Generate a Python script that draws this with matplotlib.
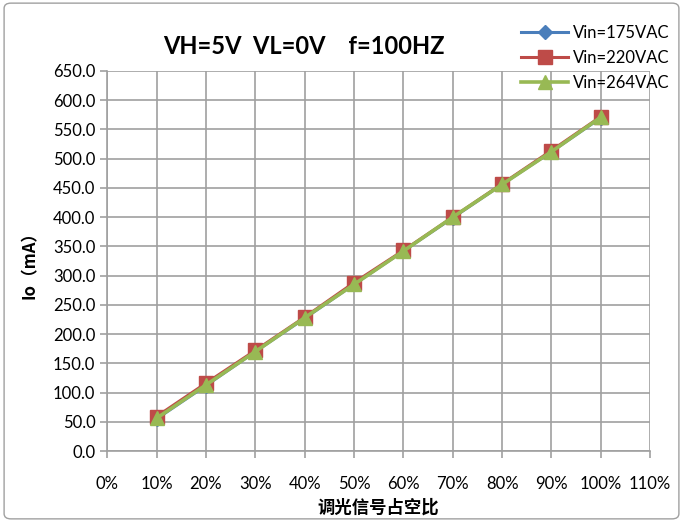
import matplotlib; matplotlib.use("Agg")
import matplotlib.pyplot as plt
from matplotlib.patches import FancyBboxPatch

duty = [10, 20, 30, 40, 50, 60, 70, 80, 90, 100]
io_175 = [55, 112, 170, 227, 285, 342, 399, 456, 512, 570]
io_220 = [59, 116, 172, 229, 288, 343, 400, 457, 514, 572]
io_264 = [56, 113, 170, 228, 285, 342, 400, 456, 512, 571]
labels = ["Vin=175VAC", "Vin=220VAC", "Vin=264VAC"]
xticks = list(range(0, 111, 10))
yticks = list(range(0, 651, 50))

plt.rcParams['font.family'] = ['Lato', 'Noto Sans CJK SC', 'DejaVu Sans']
fig = plt.figure(figsize=(6.83, 5.22), dpi=100)
ax = fig.add_axes([0.157, 0.136, 0.795, 0.728])
fig.patches.append(FancyBboxPatch((0.006, 0.006), 0.988, 0.988, boxstyle="round,pad=0,rounding_size=0.01",
                                  transform=fig.transFigure, fc="none", ec="#a0a0a0", lw=1))

ax.plot(duty, io_175, "-D", color="#4A7EBB", ms=7, lw=2.2, label=labels[0])
ax.plot(duty, io_220, "-s", color="#BE4B48", ms=10, lw=2.2, label=labels[1])
ax.plot(duty, io_264, "-^", color="#98B954", ms=10, lw=2.6, label=labels[2])

ax.set_xlim(0, 110); ax.set_ylim(0, 650)
ax.set_xticks(xticks); ax.set_xticklabels([f"{v}%" for v in xticks], fontsize=12)
ax.set_yticks(yticks); ax.set_yticklabels([f"{v:.1f}" for v in yticks], fontsize=12)
ax.grid(True, color="#a0a0a0", lw=1.2)
ax.set_axisbelow(True)
for s in ["top", "right"]: ax.spines[s].set_visible(False)
for s in ["left", "bottom"]: ax.spines[s].set_color("#a0a0a0"); ax.spines[s].set_linewidth(1.2)
ax.tick_params(axis="both", length=5, color="#a0a0a0", width=1.2)
ax.tick_params(axis="x", pad=13)
fig.text(0.445, 0.91, "VH=5V  VL=0V    f=100HZ", fontsize=17, fontweight="bold", ha="center", va="center")
ax.set_ylabel("Io（mA）", fontsize=12, fontweight="bold", family=['Noto Sans CJK SC', 'DejaVu Sans'], labelpad=10)
ax.set_xlabel("调光信号占空比", fontsize=12.5, fontweight="bold", family=['Noto Sans CJK SC', 'DejaVu Sans'], labelpad=5)
fig.legend(loc="upper right", bbox_to_anchor=(0.99, 0.965), frameon=False, fontsize=12,
           handlelength=2.8, labelspacing=0.55, handletextpad=0.3, borderaxespad=0)
fig.savefig("out.png", dpi=100)
